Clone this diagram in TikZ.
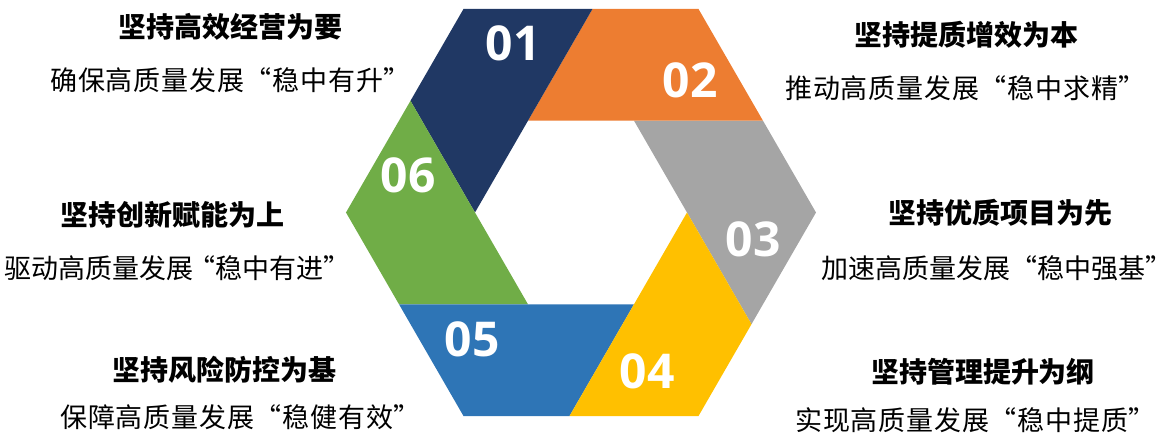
\documentclass[tikz,border=0pt]{standalone}
\usepackage{fontspec}
\newfontfamily\cjk{Noto Sans CJK SC}
\newfontfamily\cjksp[LetterSpace=3]{Noto Sans CJK SC}
\newfontfamily\numfont{Open Sans}
\definecolor{cnavy}{HTML}{203864}
\definecolor{corange}{HTML}{ED7D31}
\definecolor{cgray}{HTML}{A5A5A5}
\definecolor{cyellow}{HTML}{FFC000}
\definecolor{cblue}{HTML}{2E75B6}
\definecolor{cgreen}{HTML}{70AD47}
\tikzset{
  num/.style={text=white,font=\numfont\bfseries\fontsize{48}{50}\selectfont,inner sep=0pt},
  ttl/.style={text=black,font=\cjk\bfseries\fontsize{28}{30}\selectfont,inner sep=0pt},
  sub/.style={text=black,font=\cjksp\fontsize{27}{30}\selectfont,inner sep=0pt,anchor=west},
  subn/.style={text=black,font=\cjk\fontsize{27}{30}\selectfont,inner sep=0pt,anchor=west},
}
\begin{document}
\begin{tikzpicture}[x=1pt,y=1pt]
\useasboundingbox (-581,-223.5) rectangle (595,212.5);
\foreach \k in {0,...,5}{
  \coordinate (V\k) at (60*\k:106);
  \coordinate (W\k) at (60*\k:235);
  \coordinate (P\k) at (60*\k-33.23:203.84);
}
\fill[cgray]   (V1) -- (P1) -- (W0) -- (P0) -- cycle;
\fill[corange] (V2) -- (P2) -- (W1) -- (P1) -- cycle;
\fill[cnavy]   (V3) -- (P3) -- (W2) -- (P2) -- cycle;
\fill[cgreen]  (V4) -- (P4) -- (W3) -- (P3) -- cycle;
\fill[cblue]   (V5) -- (P5) -- (W4) -- (P4) -- cycle;
\fill[cyellow] (V0) -- (P0) -- (W5) -- (P5) -- cycle;

\node[num] (n1) at (-68,169.5) {01};
\node[num] (n2) at (109,132.5) {02};
\node[num] (n3) at (172,-26.5) {03};
\node[num] (n4) at (66,-158.5) {04};
\node[num] (n5) at (-109,-126.5) {05};
\node[num] (n6) at (-173,37.5) {06};

\node[ttl] (t1) at (-350,185.5) {坚持高效经营为要};
\node[sub] (s1) at (-531,132.5) {确保高质量发展“稳中有升”};
\node[ttl] (t2) at (385,177.5) {坚持提质增效为本};
\node[sub] (s2) at (204,124.5) {推动高质量发展“稳中求精”};
\node[ttl] (t3) at (419,-0.5) {坚持优质项目为先};
\node[subn] (s3) at (240,-55.5) {加速高质量发展“稳中强基”};
\node[ttl] (t6) at (-408,-2.5) {坚持创新赋能为上};
\node[subn] (s6) at (-577,-55.5) {驱动高质量发展\kern-5pt“稳中有进”};
\node[ttl] (t5) at (-356,-157.5) {坚持风险防控为基};
\node[sub] (s5) at (-521,-204.5) {保障高质量发展“稳健有效”};
\node[ttl] (t4) at (402,-159.5) {坚持管理提升为纲};
\node[sub] (s4) at (214,-207.5) {实现高质量发展“稳中提质”};
\end{tikzpicture}
\end{document}
